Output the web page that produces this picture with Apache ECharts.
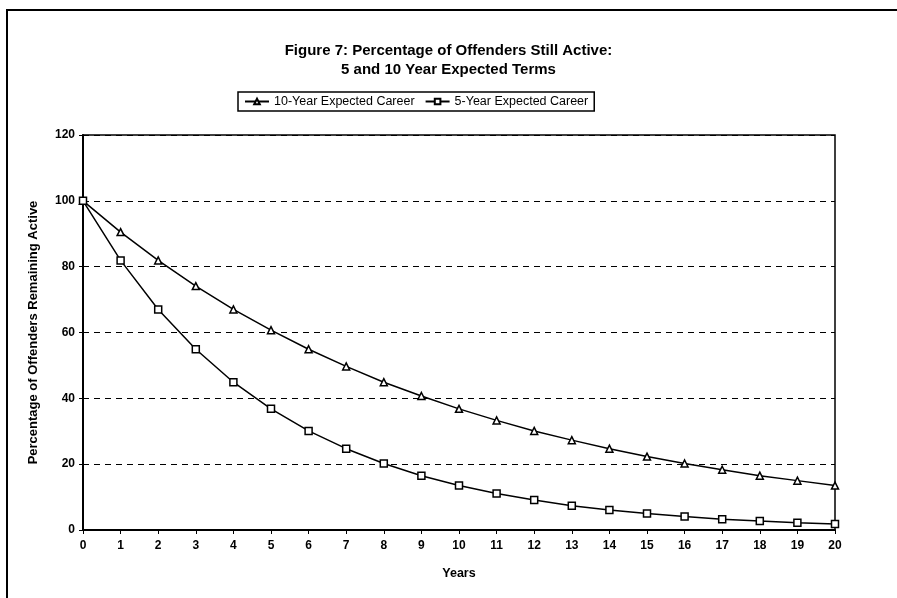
<!DOCTYPE html>
<html><head><meta charset="utf-8">
<script src="https://cdn.jsdelivr.net/npm/echarts@6/dist/echarts.min.js"></script>
<style>html,body{margin:0;padding:0;background:#fff}#c{width:897px;height:598px}</style>
</head><body><div id="c"></div>
<script>
const years = [0,1,2,3,4,5,6,7,8,9,10,11,12,13,14,15,16,17,18,19,20];
const tenYear = [100,90.5,81.9,74.1,67.0,60.7,54.9,49.7,44.9,40.7,36.8,33.3,30.1,27.3,24.7,22.3,20.2,18.3,16.5,15.0,13.5];
const fiveYear = [100,81.9,67.0,54.9,44.9,36.8,30.1,24.7,20.2,16.5,13.5,11.1,9.1,7.4,6.1,5.0,4.1,3.3,2.7,2.2,1.8];
const seriesNames = ['10-Year Expected Career','5-Year Expected Career'];
const titleLines = ['Figure 7: Percentage of Offenders Still Active:','5 and 10 Year Expected Terms'];

const font = 'Liberation Sans, Arial, sans-serif';
const chart = echarts.init(document.getElementById('c'));
const pair = (arr) => years.map((y,i)=>[y,arr[i]]);
chart.setOption({
  animation:false,
  backgroundColor:'#fff',
  graphic:[{type:'rect',shape:{x:7,y:10,width:900,height:600},style:{fill:'none',stroke:'#000',lineWidth:2},silent:true}],
  title:{text:titleLines.join('\n'),left:'center',top:36,textStyle:{fontFamily:font,fontSize:15,fontWeight:'bold',color:'#000',lineHeight:19}},
  legend:{left:238,top:92,itemGap:10,padding:[3,6,3,6],borderColor:'#000',borderWidth:1.5,
    itemWidth:24,itemHeight:7,textStyle:{fontFamily:font,fontSize:12.5,color:'#000'},
    data:seriesNames},
  grid:{left:83,right:62,top:135,bottom:68,show:true,borderColor:'#000',borderWidth:1.5},
  xAxis:{type:'value',min:0,max:20,interval:1,name:'Years',nameLocation:'middle',nameGap:37,
    nameTextStyle:{fontFamily:font,fontSize:12.5,fontWeight:'bold',color:'#000'},
    axisLine:{lineStyle:{color:'#000',width:2}},
    axisTick:{show:true,inside:false,length:4,lineStyle:{color:'#000'}},
    axisLabel:{fontFamily:font,fontSize:12,fontWeight:'bold',color:'#000',margin:10},
    splitLine:{show:false}},
  yAxis:{type:'value',min:0,max:120,interval:20,name:'Percentage of Offenders Remaining Active',nameLocation:'middle',nameGap:43,
    nameTextStyle:{fontFamily:font,fontSize:13,fontWeight:'bold',color:'#000'},
    axisLine:{show:true,lineStyle:{color:'#000',width:2}},
    axisTick:{show:true,length:4,lineStyle:{color:'#000'}},
    axisLabel:{fontFamily:font,fontSize:12,fontWeight:'bold',color:'#000',margin:8},
    splitLine:{show:true,lineStyle:{color:'#000',type:[6,5],width:1.2}}},
  series:[
    {name:seriesNames[0],type:'line',data:pair(tenYear),symbol:'triangle',symbolSize:7,
      lineStyle:{color:'#000',width:1.5},itemStyle:{color:'#fff',borderColor:'#000',borderWidth:1.5}},
    {name:seriesNames[1],type:'line',data:pair(fiveYear),symbol:'rect',symbolSize:7,
      lineStyle:{color:'#000',width:1.5},itemStyle:{color:'#fff',borderColor:'#000',borderWidth:1.5}}
  ]
});
</script></body></html>
